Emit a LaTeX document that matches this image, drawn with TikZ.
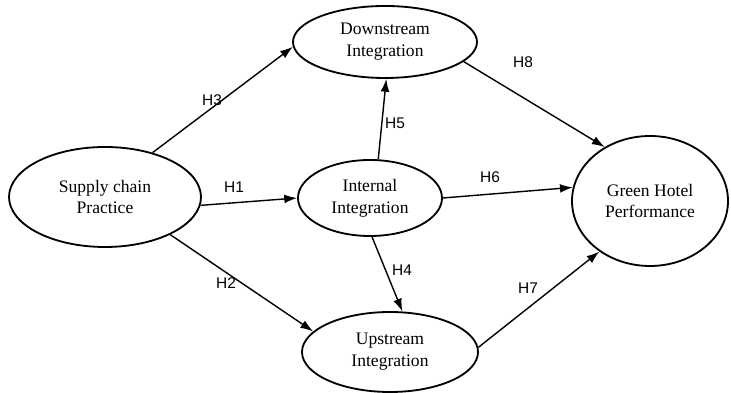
\documentclass[tikz,border=0pt]{standalone}
\usepackage{fontspec}
\setmainfont{Liberation Serif}
\newfontfamily\lblfont{Liberation Sans}
\usetikzlibrary{arrows.meta,shapes.geometric}
\tikzset {>={Latex[length=3.2mm,width=2.2mm]}}
\tikzset{
  construct/.style={ellipse,draw,line width=1.3pt,align=center,inner sep=0pt,font=\fontsize{12.5}{15.5}\selectfont},
  hyp/.style={font=\lblfont\fontsize{11}{13}\selectfont},
  path/.style={->,line width=1pt}
}

\begin{document}
\begin{tikzpicture}
\useasboundingbox (0,0) rectangle (18.275,9.825);
\node[construct,minimum width=4.8cm,minimum height=2.5cm] (scp) at (2.625,4.9) {Supply chain\\Practice};
\node[construct,minimum width=4.6cm,minimum height=1.8cm] (dsi) at (9.625,8.775) {Downstream\\Integration};
\node[construct,minimum width=3.6cm,minimum height=1.9cm] (ini) at (9.25,4.875) {Internal\\Integration};
\node[construct,minimum width=4.4cm,minimum height=2.0cm] (usi) at (9.75,1.025) {Upstream\\Integration};
\node[construct,minimum width=3.9cm,minimum height=3.25cm] (ghp) at (16.25,4.8) {Green Hotel\\Performance};

\draw[path] (scp.43) -- (dsi.183);
\draw[path] (scp.-5) -- (ini.180);
\draw[path] (scp.-30) -- (usi.165);
\draw[path] (ini.78) -- (dsi.-88);
\draw[path] (ini.-87) -- (usi.73);
\draw[path] (ini.0) -- (ghp.170);
\draw[path] (dsi.-14) -- (ghp.130);
\draw[path] (usi.3) -- (ghp.-135);

\node[hyp] (h3) at (5.3,7.325) {H3};
\node[hyp] (h1) at (5.85,5.15) {H1};
\node[hyp] (h2) at (5.65,2.75) {H2};
\node[hyp] (h5) at (9.875,6.75) {H5};
\node[hyp] (h4) at (10.05,3.075) {H4};
\node[hyp] (h6) at (12.25,5.4) {H6};
\node[hyp] (h8) at (13.075,8.275) {H8};
\node[hyp] (h7) at (13.2,2.625) {H7};
\end{tikzpicture}
\end{document}
